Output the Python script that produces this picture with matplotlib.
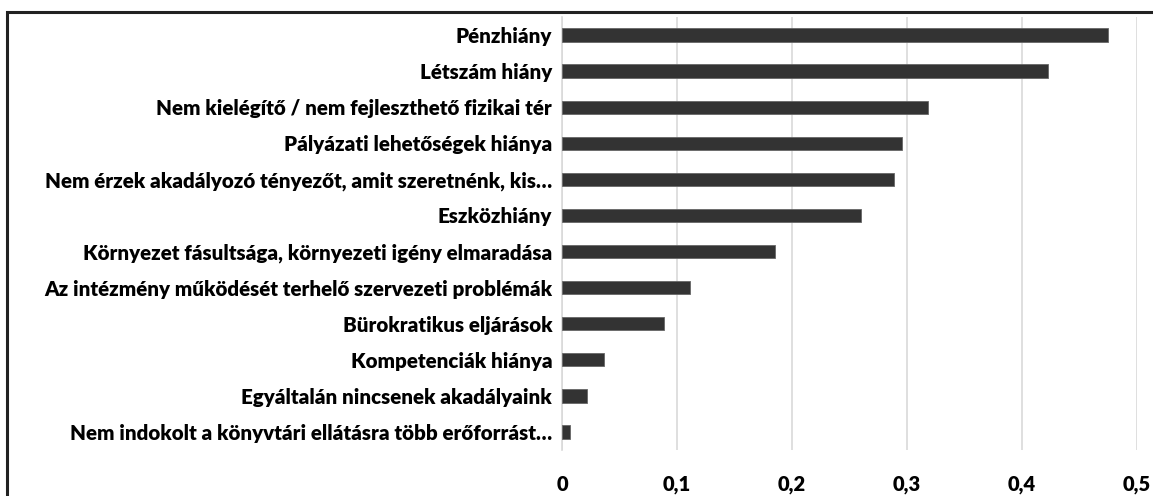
import matplotlib.pyplot as plt
from matplotlib.patches import Rectangle
from matplotlib.ticker import FuncFormatter

categories = [
    "Pénzhiány",
    "Létszám hiány",
    "Nem kielégítő / nem fejleszthető fizikai tér",
    "Pályázati lehetőségek hiánya",
    "Nem érzek akadályozó tényezőt, amit szeretnénk, kis…",
    "Eszközhiány",
    "Környezet fásultsága, környezeti igény elmaradása",
    "Az intézmény működését terhelő szervezeti problémák",
    "Bürokratikus eljárások",
    "Kompetenciák hiánya",
    "Egyáltalán nincsenek akadályaink",
    "Nem indokolt a könyvtári ellátásra több erőforrást…",
]
values = [0.4745, 0.4225, 0.3185, 0.296, 0.289, 0.2597,
          0.1849, 0.1111, 0.0884, 0.0364, 0.0218, 0.0071]
xticks = [0, 0.1, 0.2, 0.3, 0.4, 0.5]

plt.rcParams['font.family'] = ['Lato', 'DejaVu Sans']

fig = plt.figure(figsize=(11.53, 4.96), dpi=100)
ax = fig.add_axes([0.4874, 0.0927, 0.4987, 0.873])

pos = range(len(categories))
ax.barh(pos, values, height=0.37, color='#333333', edgecolor='#666666', linewidth=0.6, zorder=3)
ax.set_yticks(list(pos))
ax.set_yticklabels(categories, fontsize=14.8, fontweight='heavy')
ax.set_ylim(11.5, -0.5)

ax.set_xlim(0, 0.5)
ax.set_xticks(xticks)
ax.xaxis.set_major_formatter(FuncFormatter(lambda v, p: ('%g' % round(v, 2)).replace('.', ',')))
for t in ax.get_xticklabels():
    t.set_fontweight('heavy')
    t.set_fontsize(14.5)

ax.grid(axis='x', color='#d9d9d9', linewidth=1.2, zorder=0)
ax.tick_params(axis='x', length=0, pad=18)
ax.tick_params(axis='y', length=0, pad=7)
for s in ['top', 'right', 'bottom']:
    ax.spines[s].set_visible(False)
ax.spines['left'].set_color('#d9d9d9')
ax.spines['left'].set_linewidth(1.2)

# outer frame (cropped at right and bottom)
fig.add_artist(Rectangle((7 / 1153, -0.2), 1.2, 1.2 - 12 / 496,
                         transform=fig.transFigure, fill=False,
                         edgecolor='#222222', linewidth=2.2))

fig.savefig('out.png', dpi=100)
